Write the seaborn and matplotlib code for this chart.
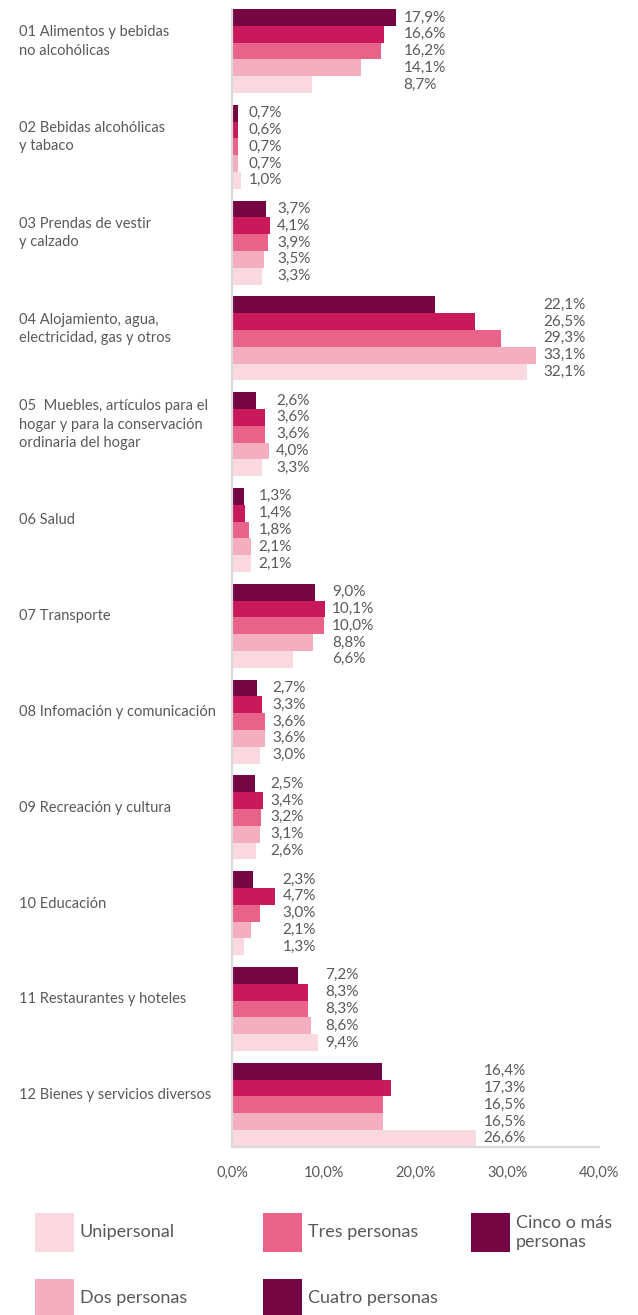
import numpy as np
import pandas as pd
import matplotlib
matplotlib.use("Agg")
import matplotlib.pyplot as plt
import matplotlib.transforms as mtransforms
from matplotlib.patches import Rectangle
import seaborn as sns

# ---------------- data ----------------
categories = [
    "01 Alimentos y bebidas\nno alcohólicas",
    "02 Bebidas alcohólicas\ny tabaco",
    "03 Prendas de vestir\ny calzado",
    "04 Alojamiento, agua,\nelectricidad, gas y otros",
    "05  Muebles, artículos para el\nhogar y para la conservación\nordinaria del hogar",
    "06 Salud",
    "07 Transporte",
    "08 Infomación y comunicación",
    "09 Recreación y cultura",
    "10 Educación",
    "11 Restaurantes y hoteles",
    "12 Bienes y servicios diversos",
]
cinco = [17.9, 0.7, 3.7, 22.1, 2.6, 1.3, 9.0, 2.7, 2.5, 2.3, 7.2, 16.4]
cuatro = [16.6, 0.6, 4.1, 26.5, 3.6, 1.4, 10.1, 3.3, 3.4, 4.7, 8.3, 17.3]
tres = [16.2, 0.7, 3.9, 29.3, 3.6, 1.8, 10.0, 3.6, 3.2, 3.0, 8.3, 16.5]
dos = [14.1, 0.7, 3.5, 33.1, 4.0, 2.1, 8.8, 3.6, 3.1, 2.1, 8.6, 16.5]
uni = [8.7, 1.0, 3.3, 32.1, 3.3, 2.1, 6.6, 3.0, 2.6, 1.3, 9.4, 26.6]

series_names = ["Cinco o más personas", "Cuatro personas", "Tres personas",
                "Dos personas", "Unipersonal"]
series_values = [cinco, cuatro, tres, dos, uni]
bar_colors = ["#740442", "#c8195a", "#e8628a", "#f5aec0", "#f9d8df"]

legend_labels = ["Unipersonal", "Dos personas", "Tres personas",
                 "Cuatro personas", "Cinco o más\npersonas"]
legend_colors = ["#f9d8df", "#f5aec0", "#e8628a", "#740442", "#740442"]

xticks = [0, 10, 20, 30, 40]
xtick_labels = ["0,0%", "10,0%", "20,0%", "30,0%", "40,0%"]

# --------------- build table -------------
rows = []
for name, vals in zip(series_names, series_values):
    for cat, v in zip(categories, vals):
        rows.append({"cat": cat, "serie": name, "valor": v})
df = pd.DataFrame(rows)

sns.set_style("white")
plt.rcParams["font.family"] = ["Lato", "DejaVu Sans"]
TXT = "#595959"
GRID = "#d9d9d9"

fig = plt.figure(figsize=(6.38, 13.15), dpi=100)
W, H = 638, 1315
ax = fig.add_axes([232 / W, 1 - 1146.7 / H, (599 - 232) / W, (1146.7 - 9) / H])

sns.barplot(data=df, y="cat", x="valor", hue="serie", hue_order=series_names,
            order=categories, palette=bar_colors, orient="h", width=0.876,
            saturation=1, legend=False, ax=ax, linewidth=0)

ax.set_xlim(0, 40)
ax.set_ylim(len(categories) - 1 + 0.438, -0.438)
ax.set_xlabel("")
ax.set_ylabel("")
ax.set_yticks([])
ax.set_xticks(xticks)
ax.set_xticklabels(xtick_labels, fontsize=10.5, color=TXT)
ax.tick_params(axis="x", direction="out", length=7, width=1.5, color=GRID, pad=7)
for s in ["top", "right"]:
    ax.spines[s].set_visible(False)
for s in ["left", "bottom"]:
    ax.spines[s].set_color(GRID)
    ax.spines[s].set_linewidth(1.6)

# value labels, aligned just right of the longest bar of each group
group_max = [max(v) for v in zip(*series_values)]
for cont, vals in zip(ax.containers, series_values):
    for i, (bar, v) in enumerate(zip(cont, vals)):
        y = bar.get_y() + bar.get_height() / 2
        ax.text(group_max[i] + 0.8, y, f"{v:.1f}%".replace(".", ","),
                va="center", ha="left", fontsize=11, color=TXT)

# category labels on the left
trans = mtransforms.blended_transform_factory(fig.transFigure, ax.transData)
for i, cat in enumerate(categories):
    ax.text(19 / W, i - 0.1, cat, transform=trans, ha="left", va="center",
            fontsize=10.5, color=TXT, linespacing=1.4, clip_on=False)

# legend (manual layout)
patch_x = [35, 35, 263, 263, 471]
patch_top = [1213, 1279, 1213, 1279, 1213]
psz = 39
for lab, col, px, pt in zip(legend_labels, legend_colors, patch_x, patch_top):
    fig.add_artist(Rectangle((px / W, 1 - (pt + psz) / H), psz / W, psz / H,
                             transform=fig.transFigure, facecolor=col,
                             edgecolor="none"))
    fig.text((px + psz + 6) / W, 1 - (pt + psz / 2) / H, lab, ha="left",
             va="center", fontsize=13, color=TXT, linespacing=1.2)

fig.savefig("out.png", dpi=100)
